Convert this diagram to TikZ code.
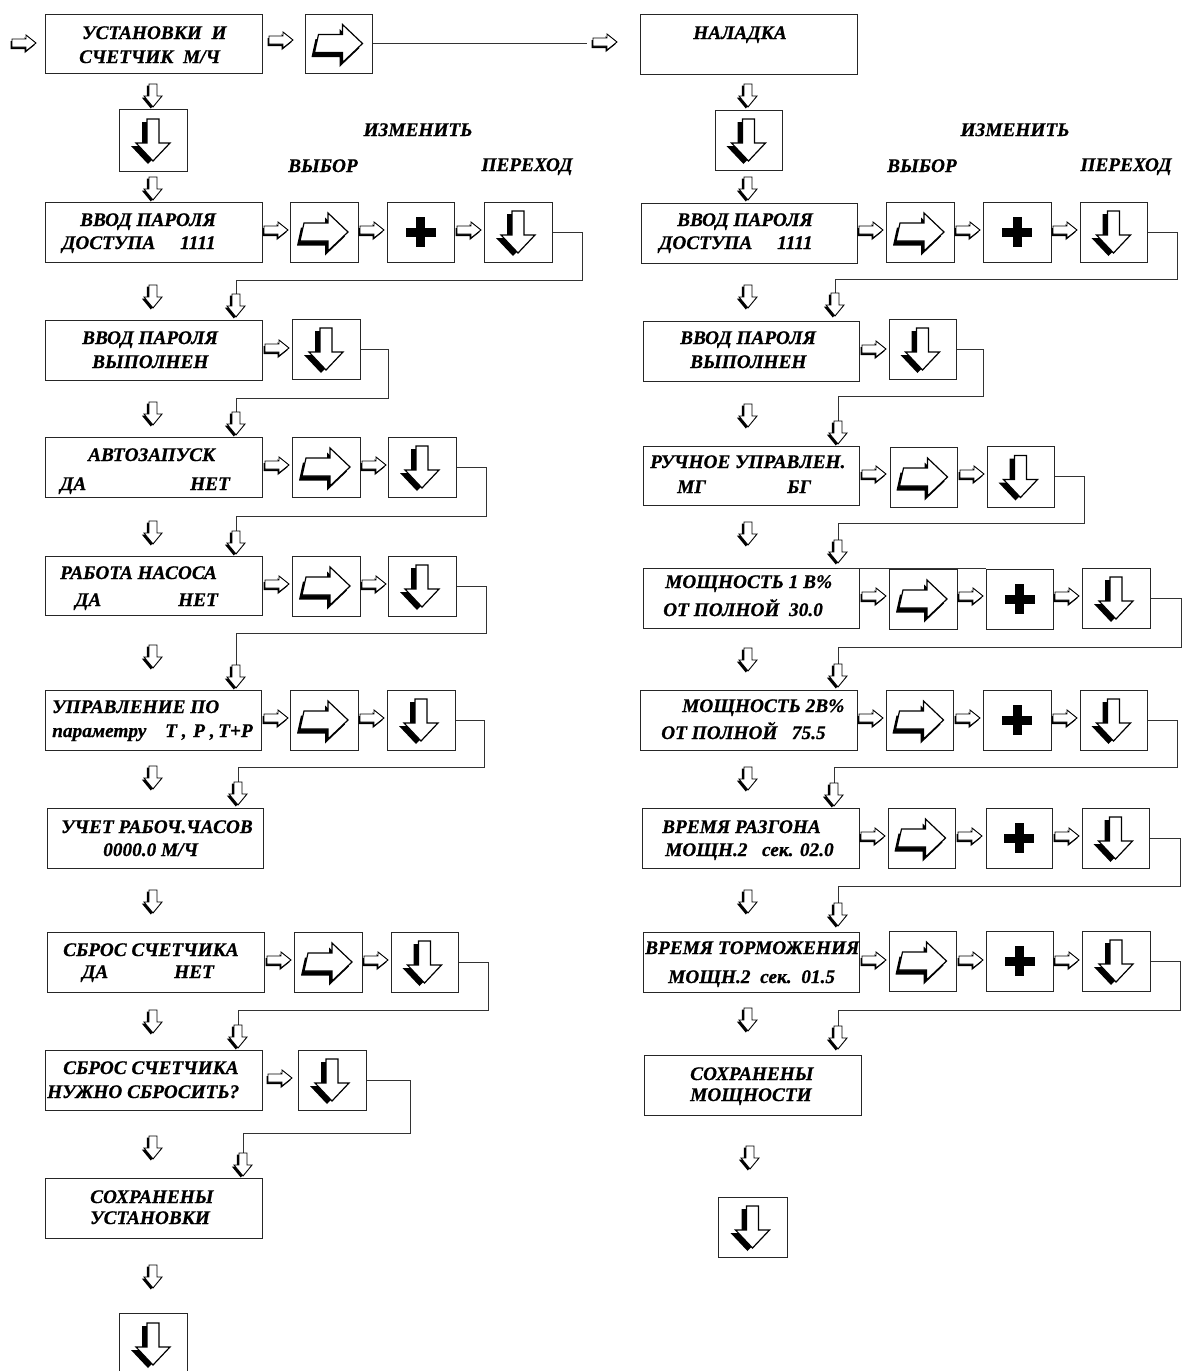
\documentclass[tikz,border=0pt]{standalone}
\usepackage{fontspec}
\setmainfont{Liberation Serif}[BoldItalicFeatures={FakeBold=0.7}]
\tikzset{
  sR/.pic={
    \fill[black,shift={(-1.5,2.2)}] (-12,-4)--(2,-4)--(2,-8)--(12,0)--(2,8)--(2,4)--(-12,4)--cycle;
    \filldraw[fill=white,draw=black,line width=0.9pt,line join=miter] (-12,-4)--(2,-4)--(2,-8)--(12,0)--(2,8)--(2,4)--(-12,4)--cycle;
  },
  sD/.pic={
    \fill[black,shift={(-2.2,1.5)}] (-4,-12)--(4,-12)--(4,0)--(9,0)--(0,11)--(-9,0)--(-4,0)--cycle;
    \filldraw[fill=white,draw=black,line width=0.9pt,line join=miter] (-4,-12)--(4,-12)--(4,0)--(9,0)--(0,11)--(-9,0)--(-4,0)--cycle;
  },
  bR/.pic={
    \fill[black,shift={(-3,4.5)}] (-20,-9)--(4,-9)--(4,-19)--(24,0)--(4,19)--(4,9)--(-24,9)--cycle;
    \filldraw[fill=white,draw=black,line width=1.2pt,line join=miter] (-20,-9)--(4,-9)--(4,-19)--(24,0)--(4,19)--(4,9)--(-24,9)--cycle;
  },
  bD/.pic={
    \fill[black,shift={(-5,3)}] (-6,-21)--(6,-21)--(6,3)--(17,3)--(0,21)--(-17,3)--(-6,3)--cycle;
    \filldraw[fill=white,draw=black,line width=1.2pt,line join=miter] (-6,-21)--(6,-21)--(6,3)--(17,3)--(0,21)--(-17,3)--(-6,3)--cycle;
  },
  plus/.pic={
    \fill[black] (-15,-4.5) rectangle (15,4.5);
    \fill[black] (-4.5,-15) rectangle (4.5,15);
  },
  box/.style={draw=black!85,line width=1pt,inner sep=0pt},
  txt/.style={font=\fontsize{19.3}{21}\selectfont\bfseries\itshape,inner sep=0pt,anchor=base west},
  lbl/.style={font=\fontsize{19.3}{21}\selectfont\bfseries\itshape,inner sep=0pt,anchor=base},
  conn/.style={draw=black!80,line width=0.9pt},
}
\newcommand\bx[5]{\node[box,minimum width={(#4-#2)*1pt},minimum height={(#5-#3)*1pt}] (#1) at ({(#2+#4)/2},{(#3+#5)/2}) {};}
\begin{document}
\begin{tikzpicture}[x=1pt,y=-1pt]
\useasboundingbox (0,0) rectangle (1182,1371);
% ---------- top row
\pic at (24,43) {sR};
\bx{ust}{45}{14}{262}{73}
\node[txt] (t01) at (82,39) {УСТАНОВКИ\ \ И};
\node[txt] (t02) at (79,63) {СЧЕТЧИК\ \ М/Ч};
\pic at (281,40) {sR};
\bx{kR0}{305}{14}{372}{73}
\pic at (kR0) {bR};
\coordinate (e0) at (587,43.5);
\draw[conn] (kR0.east) -- (e0);
\pic at (605,42) {sR};
\bx{nal}{640}{14}{857}{74}
\node[lbl] (t03) at (740,39) {НАЛАДКА};
% ---------- big down boxes
\pic at (153,96) {sD};
\bx{ld0}{119}{109}{187}{171}
\pic at (ld0) {bD};
\pic at (153,189) {sD};
\pic at (748,96) {sD};
\bx{rd0}{715}{110}{782}{170}
\pic at (rd0) {bD};
\pic at (748,189) {sD};
% ---------- labels
\node[lbl] (c1) at (418,136) {ИЗМЕНИТЬ};
\node[lbl] (c2) at (323,172) {ВЫБОР};
\node[lbl] (c3) at (527,171) {ПЕРЕХОД};
\node[lbl] (c4) at (1015,136) {ИЗМЕНИТЬ};
\node[lbl] (c5) at (922,172) {ВЫБОР};
\node[lbl] (c6) at (1126,171) {ПЕРЕХОД};
% ================= LEFT COLUMN
% row 1
\bx{l1}{45}{202}{262}{262}
\node[txt] (t11) at (80,226) {ВВОД ПАРОЛЯ};
\node[txt] (t12) at (62,249) {ДОСТУПА};
\node[txt] (t13) at (180,249) {1111};
\pic at (276,230) {sR};
\bx{l1a}{290}{202}{358}{262} \pic at (l1a) {bR};
\pic at (372,230) {sR};
\bx{l1b}{387}{202}{454}{262} \pic at (l1b) {plus};
\pic at (469,230) {sR};
\bx{l1c}{484}{202}{552}{262} \pic at (l1c) {bD};
\coordinate (l1e) at (236,294);
\draw[conn] (l1c.east) -| (582,280) -| (l1e);
\pic at (236,306) {sD};
\pic at (153,297) {sD};
% row 2
\bx{l2}{45}{320}{262}{380}
\node[txt] (t21) at (82,344) {ВВОД ПАРОЛЯ};
\node[txt] (t22) at (92,368) {ВЫПОЛНЕН};
\pic at (277,348) {sR};
\bx{l2a}{292}{319}{360}{379} \pic at (l2a) {bD};
\coordinate (l2e) at (236,412);
\draw[conn] (l2a.east) -| (388,398) -| (l2e);
\pic at (236,424) {sD};
\pic at (153,414) {sD};
% row 3
\bx{l3}{45}{437}{262}{497}
\node[txt] (t31) at (88,461) {АВТОЗАПУСК};
\node[txt] (t32) at (60,490) {ДА};
\node[txt] (t33) at (190,490) {НЕТ};
\pic at (277,465) {sR};
\bx{l3a}{292}{437}{360}{497} \pic at (l3a) {bR};
\pic at (374,465) {sR};
\bx{l3b}{388}{437}{456}{497} \pic at (l3b) {bD};
\coordinate (l3e) at (236,531);
\draw[conn] (l3b.east) -| (486,516) -| (l3e);
\pic at (236,543) {sD};
\pic at (153,533) {sD};
% row 4
\bx{l4}{45}{556}{262}{615}
\node[txt] (t41) at (60,579) {РАБОТА НАСОСА};
\node[txt] (t42) at (75,606) {ДА};
\node[txt] (t43) at (178,606) {НЕТ};
\pic at (277,584) {sR};
\bx{l4a}{292}{556}{360}{616} \pic at (l4a) {bR};
\pic at (374,584) {sR};
\bx{l4b}{388}{556}{456}{616} \pic at (l4b) {bD};
\coordinate (l4e) at (236,665);
\draw[conn] (l4b.east) -| (486,633) -| (l4e);
\pic at (236,677) {sD};
\pic at (153,657) {sD};
% row 5
\bx{l5}{45}{690}{261}{750}
\node[txt] (t51) at (52,713) {УПРАВЛЕНИЕ ПО};
\node[txt] (t52) at (52,737) {параметру};
\node[txt] (t53) at (165,737) {Т ,};
\node[txt] (t54) at (193,737) {Р ,};
\node[txt] (t55) at (218,737) {Т+Р};
\pic at (276,718) {sR};
\bx{l5a}{290}{690}{358}{750} \pic at (l5a) {bR};
\pic at (372,718) {sR};
\bx{l5b}{387}{690}{455}{750} \pic at (l5b) {bD};
\coordinate (l5e) at (238,782);
\draw[conn] (l5b.east) -| (484,767) -| (l5e);
\pic at (238,794) {sD};
\pic at (153,778) {sD};
% row 6
\bx{l6}{47}{808}{263}{868}
\node[txt] (t61) at (61,833) {УЧЕТ РАБОЧ.ЧАСОВ};
\node[txt] (t62) at (103,856) {0000.0 М/Ч};
\pic at (153,902) {sD};
% row 7
\bx{l7}{47}{932}{264}{992}
\node[txt] (t71) at (63,956) {СБРОС СЧЕТЧИКА};
\node[txt] (t72) at (82,978) {ДА};
\node[txt] (t73) at (174,978) {НЕТ};
\pic at (279,960) {sR};
\bx{l7a}{294}{932}{362}{992} \pic at (l7a) {bR};
\pic at (376,960) {sR};
\bx{l7b}{391}{932}{458}{992} \pic at (l7b) {bD};
\coordinate (l7e) at (238,1025);
\draw[conn] (l7b.east) -| (488,1010) -| (l7e);
\pic at (238,1037) {sD};
\pic at (153,1022) {sD};
% row 8
\bx{l8}{45}{1050}{262}{1110}
\node[txt] (t81) at (63,1074) {СБРОС СЧЕТЧИКА};
\node[txt] (t82) at (47,1098) {НУЖНО СБРОСИТЬ?};
\pic at (280,1078) {sR};
\bx{l8a}{298}{1050}{366}{1110} \pic at (l8a) {bD};
\coordinate (l8e) at (243,1153);
\draw[conn] (l8a.east) -| (410,1133) -| (l8e);
\pic at (243,1165) {sD};
\pic at (153,1148) {sD};
% row 9
\bx{l9}{45}{1178}{262}{1238}
\node[txt] (t91) at (90,1203) {СОХРАНЕНЫ};
\node[txt] (t92) at (90,1224) {УСТАНОВКИ};
\pic at (153,1277) {sD};
\bx{l10}{119}{1313}{187}{1375} \pic at (l10) {bD};
% ================= RIGHT COLUMN
% row 1
\bx{r1}{641}{203}{857}{263}
\node[txt] (s11) at (677,226) {ВВОД ПАРОЛЯ};
\node[txt] (s12) at (659,249) {ДОСТУПА};
\node[txt] (s13) at (777,249) {1111};
\pic at (871,230) {sR};
\bx{r1a}{886}{202}{954}{262} \pic at (r1a) {bR};
\pic at (968,230) {sR};
\bx{r1b}{983}{202}{1051}{262} \pic at (r1b) {plus};
\pic at (1065,230) {sR};
\bx{r1c}{1080}{202}{1147}{262} \pic at (r1c) {bD};
\coordinate (r1e) at (835,293);
\draw[conn] (r1c.east) -| (1177,279) -| (r1e);
\pic at (835,305) {sD};
\pic at (748,297) {sD};
% row 2
\bx{r2}{643}{321}{859}{381}
\node[txt] (s21) at (680,344) {ВВОД ПАРОЛЯ};
\node[txt] (s22) at (690,368) {ВЫПОЛНЕН};
\pic at (874,349) {sR};
\bx{r2a}{889}{319}{956}{379} \pic at (r2a) {bD};
\coordinate (r2e) at (838,421);
\draw[conn] (r2a.east) -| (983,396) -| (r2e);
\pic at (838,433) {sD};
\pic at (748,416) {sD};
% row 3
\bx{r3}{643}{446}{859}{505}
\node[txt] (s31) at (650,468) {РУЧНОЕ УПРАВЛЕН.};
\node[txt] (s32) at (677,493) {МГ};
\node[txt] (s33) at (787,493) {БГ};
\pic at (874,474) {sR};
\bx{r3a}{890}{447}{957}{507} \pic at (r3a) {bR};
\pic at (972,474) {sR};
\bx{r3b}{987}{446}{1054}{507} \pic at (r3b) {bD};
\coordinate (r3e) at (838,540);
\draw[conn] (r3b.east) -| (1084,523) -| (r3e);
\pic at (838,552) {sD};
\pic at (748,534) {sD};
% row 4
\bx{r4}{643}{568}{859}{628}
\node[txt] (s41) at (665,588) {МОЩНОСТЬ 1 В\%};
\node[txt] (s42) at (663,616) {ОТ ПОЛНОЙ\ \ 30.0};
\pic at (874,596) {sR};
\bx{r4a}{889}{569}{957}{629} \pic at (r4a) {bR};
\pic at (971,596) {sR};
\bx{r4b}{986}{569}{1053}{629} \pic at (r4b) {plus};
\pic at (1067,596) {sR};
\bx{r4c}{1082}{568}{1150}{628} \pic at (r4c) {bD};
\coordinate (r4s) at (838,568.5);
\draw[conn] (r4s) -- (r4b.north west);
\coordinate (r4e) at (838,664);
\draw[conn] (r4c.east) -| (1181,647) -| (r4e);
\pic at (838,676) {sD};
\pic at (748,660) {sD};
% row 5
\bx{r5}{640}{690}{857}{750}
\node[txt] (s51) at (682,712) {МОЩНОСТЬ 2В\%};
\node[txt] (s52) at (661,739) {ОТ ПОЛНОЙ\ \ \ 75.5};
\pic at (871,718) {sR};
\bx{r5a}{886}{690}{953}{750} \pic at (r5a) {bR};
\pic at (968,718) {sR};
\bx{r5b}{983}{690}{1051}{750} \pic at (r5b) {plus};
\pic at (1065,718) {sR};
\bx{r5c}{1080}{690}{1147}{750} \pic at (r5c) {bD};
\coordinate (r5e) at (834,783);
\draw[conn] (r5c.east) -| (1177,767) -| (r5e);
\pic at (834,795) {sD};
\pic at (748,779) {sD};
% row 6
\bx{r6}{642}{808}{859}{868}
\node[txt] (s61) at (662,833) {ВРЕМЯ РАЗГОНА};
\node[txt] (s62) at (665,856) {МОЩН.2\ \ \ сек. 02.0};
\pic at (873,836) {sR};
\bx{r6a}{888}{808}{955}{868} \pic at (r6a) {bR};
\pic at (970,836) {sR};
\bx{r6b}{986}{808}{1052}{868} \pic at (r6b) {plus};
\pic at (1067,836) {sR};
\bx{r6c}{1082}{808}{1149}{868} \pic at (r6c) {bD};
\coordinate (r6e) at (838,903);
\draw[conn] (r6c.east) -| (1180,886) -| (r6e);
\pic at (838,915) {sD};
\pic at (748,902) {sD};
% row 7
\bx{r7}{643}{932}{859}{992}
\node[txt] (s71) at (645,954) {ВРЕМЯ ТОРМОЖЕНИЯ};
\node[txt] (s72) at (668,983) {МОЩН.2\ \ сек.\ \ 01.5};
\pic at (874,960) {sR};
\bx{r7a}{889}{931}{956}{991} \pic at (r7a) {bR};
\pic at (971,960) {sR};
\bx{r7b}{986}{931}{1053}{991} \pic at (r7b) {plus};
\pic at (1067,960) {sR};
\bx{r7c}{1082}{931}{1150}{991} \pic at (r7c) {bD};
\coordinate (r7e) at (838,1026);
\draw[conn] (r7c.east) -| (1180,1010) -| (r7e);
\pic at (838,1038) {sD};
\pic at (748,1020) {sD};
% row 8
\bx{r8}{644}{1055}{861}{1115}
\node[txt] (s81) at (690,1080) {СОХРАНЕНЫ};
\node[txt] (s82) at (690,1101) {МОЩНОСТИ};
\pic at (750,1158) {sD};
\bx{r9}{718}{1197}{787}{1257} \pic at (r9) {bD};
\end{tikzpicture}
\end{document}
